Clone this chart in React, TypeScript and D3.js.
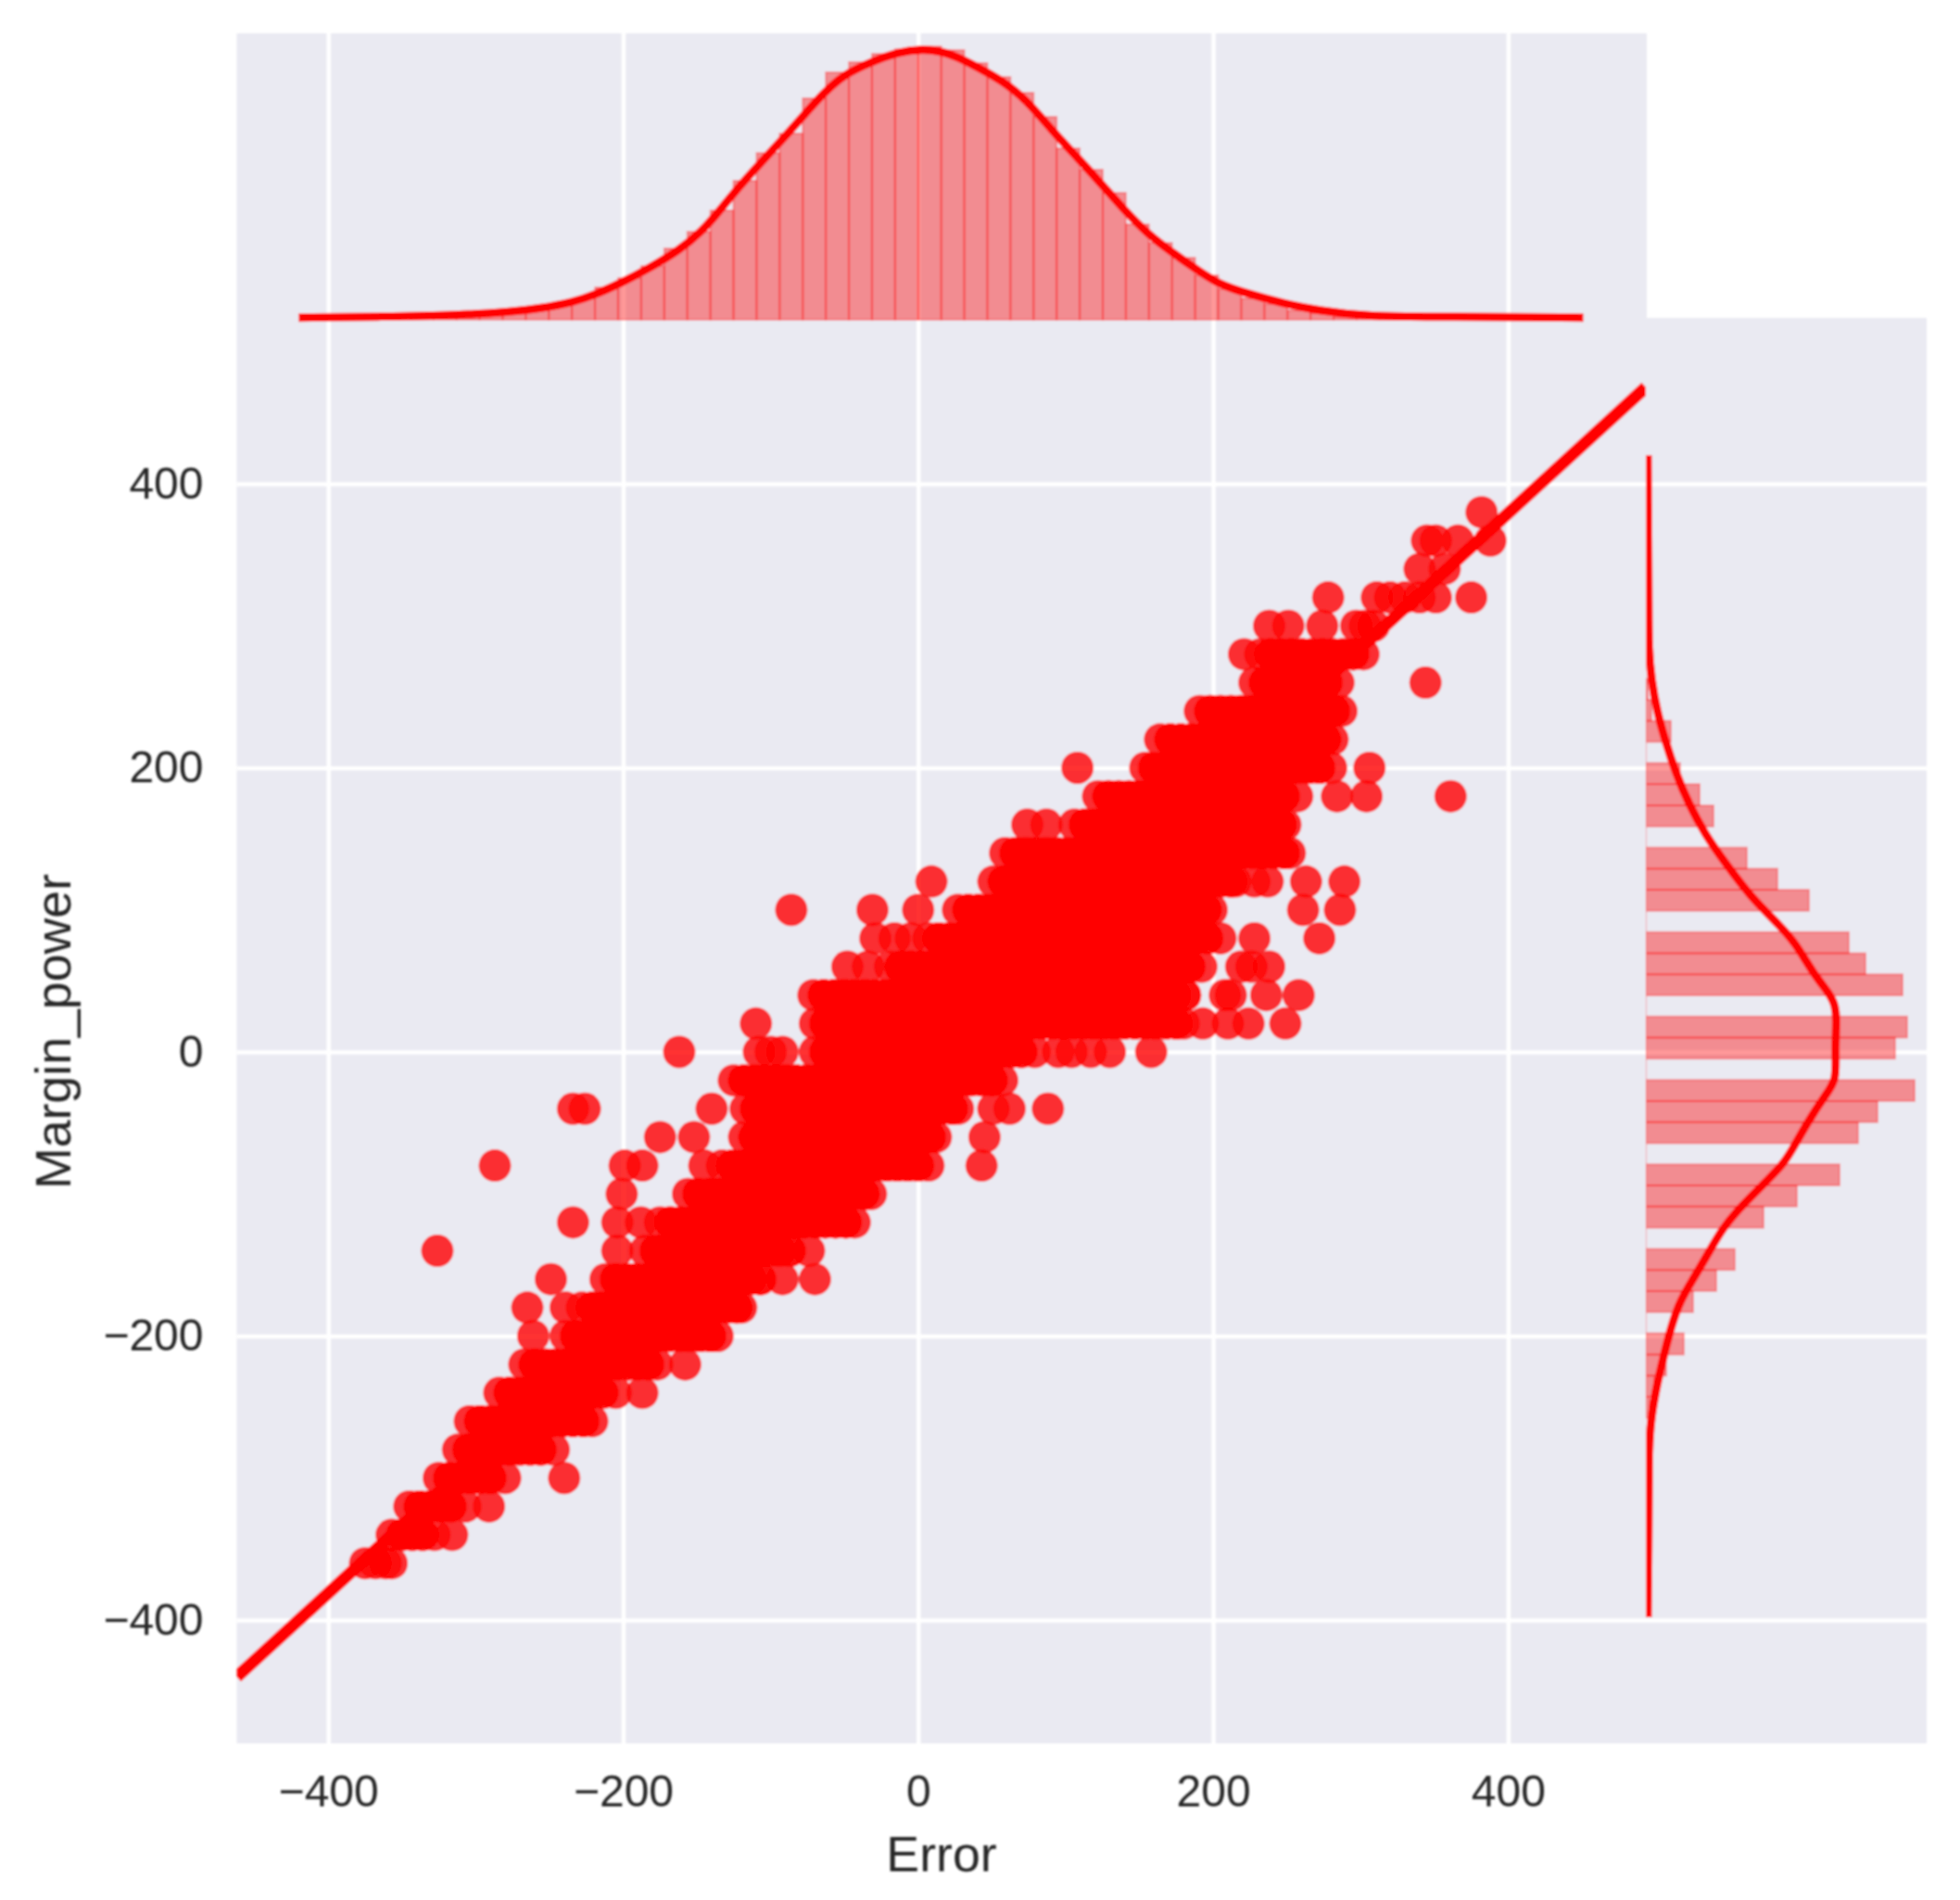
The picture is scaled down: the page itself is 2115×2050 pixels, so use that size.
import React, { useEffect, useRef } from 'react'
import * as d3 from 'd3'

const tickValues = [-400, -200, 0, 200, 400]

// Margin_power comes in steps of 20, so the points sit in rows
const rowMargin = [380, 360, 340, 320, 300, 280, 260, 240, 220, 200, 180, 160, 140, 120, 100, 80, 60, 40, 20, 0, -20, -40, -60, -80, -100, -120, -140, -160, -180, -200, -220, -240, -260, -280, -300, -320, -340, -360]
const rowError = [
  [382],
  [345, 351, 366, 388],
  [340, 357],
  [278, 311, 320, 330, 340, 351, 375],
  [238, 251, 274, 297, 303, 309],
  [221, 232, 239, 246, 253, 260, 267, 274, 281, 288, 295, 302],
  [228, 235, 242, 249, 256, 263, 270, 277, 285, 344],
  [191, 198, 205, 212, 219, 226, 233, 240, 247, 254, 261, 268, 275, 282, 287],
  [164, 171, 178, 185, 192, 199, 206, 213, 220, 227, 234, 241, 248, 255, 262, 269, 276, 281],
  [108, 154, 160, 167, 174, 181, 188, 195, 202, 209, 216, 223, 230, 237, 244, 251, 258, 265, 272, 280, 306],
  [122, 129, 136, 143, 150, 157, 164, 171, 178, 185, 192, 199, 206, 213, 220, 227, 234, 241, 248, 257, 284, 304, 361],
  [74, 87, 106, 113, 120, 127, 134, 141, 148, 155, 162, 169, 176, 183, 190, 197, 204, 211, 218, 225, 232, 239, 246, 249],
  [59, 66, 73, 80, 87, 94, 101, 108, 115, 122, 129, 136, 143, 150, 157, 164, 171, 178, 185, 192, 199, 206, 213, 220, 227, 234, 241, 248, 252],
  [9, 51, 58, 65, 72, 79, 86, 93, 100, 107, 114, 121, 128, 135, 142, 149, 156, 163, 170, 177, 184, 191, 198, 205, 212, 215, 228, 237, 263, 289],
  [-86, -31, 0, 27, 34, 41, 48, 55, 62, 69, 76, 83, 90, 97, 104, 111, 118, 125, 132, 139, 146, 153, 160, 167, 174, 181, 188, 195, 199, 261, 286],
  [-29, -16, -5, 7, 14, 21, 28, 35, 42, 49, 56, 63, 70, 77, 84, 91, 98, 105, 112, 119, 126, 133, 140, 147, 154, 161, 168, 175, 182, 189, 196, 205, 228, 272],
  [-48, -34, -19, -12, -5, 2, 9, 16, 23, 30, 37, 44, 51, 58, 65, 72, 79, 86, 93, 100, 107, 114, 121, 128, 135, 142, 149, 156, 163, 170, 177, 184, 192, 219, 226, 238],
  [-71, -64, -57, -50, -43, -36, -29, -22, -15, -8, -1, 6, 13, 20, 27, 34, 41, 48, 55, 62, 69, 76, 83, 90, 97, 104, 111, 118, 125, 132, 139, 146, 153, 160, 167, 174, 181, 208, 212, 236, 258],
  [-110, -70, -63, -56, -49, -42, -35, -28, -21, -14, -7, 0, 7, 14, 21, 28, 35, 42, 49, 56, 63, 70, 77, 84, 91, 98, 105, 112, 119, 126, 133, 140, 147, 154, 161, 168, 175, 180, 193, 210, 224, 249],
  [-162, -108, -100, -92, -70, -63, -56, -49, -42, -35, -28, -21, -14, -7, 0, 7, 14, 21, 28, 35, 42, 49, 56, 63, 70, 79, 95, 104, 117, 130, 158],
  [-125, -118, -111, -104, -97, -90, -83, -76, -69, -62, -55, -48, -41, -34, -27, -20, -13, -6, 1, 8, 15, 22, 29, 36, 43, 50, 57],
  [-234, -226, -140, -117, -110, -103, -96, -89, -82, -75, -68, -61, -54, -47, -40, -33, -26, -19, -12, -5, 2, 9, 16, 23, 27, 51, 62, 88],
  [-175, -152, -118, -111, -104, -97, -90, -83, -76, -69, -62, -55, -48, -41, -34, -27, -20, -13, -6, 1, 8, 12, 45],
  [-287, -199, -187, -145, -133, -126, -119, -112, -105, -98, -91, -84, -77, -70, -63, -56, -49, -42, -35, -28, -21, -14, -7, 0, 7, 43],
  [-201, -156, -149, -142, -135, -128, -121, -114, -107, -100, -93, -86, -79, -72, -65, -58, -51, -44, -37, -32],
  [-234, -204, -188, -175, -168, -161, -154, -147, -140, -133, -126, -119, -112, -105, -98, -91, -84, -77, -70, -63, -56, -49, -43],
  [-326, -204, -185, -178, -171, -164, -157, -150, -143, -136, -129, -122, -115, -108, -101, -94, -87, -74],
  [-249, -212, -205, -198, -191, -184, -177, -170, -163, -156, -149, -142, -135, -128, -121, -114, -107, -92, -70],
  [-265, -239, -228, -221, -214, -207, -200, -193, -186, -179, -172, -165, -158, -151, -144, -137, -130, -123, -120],
  [-261, -239, -232, -225, -218, -211, -204, -197, -190, -183, -176, -169, -162, -155, -148, -141, -136],
  [-267, -260, -253, -246, -239, -232, -225, -218, -211, -204, -197, -190, -183, -177, -158],
  [-284, -277, -270, -263, -256, -249, -242, -235, -228, -221, -214, -205, -187],
  [-304, -297, -290, -283, -276, -269, -262, -255, -248, -241, -234, -227, -221],
  [-312, -305, -298, -291, -284, -277, -270, -263, -256, -247],
  [-325, -318, -311, -304, -297, -290, -280, -240],
  [-345, -338, -331, -324, -317, -307, -291],
  [-357, -350, -343, -336, -328, -316],
  [-375, -368, -361, -357],
]

// in the middle of each row the observations pile up, those are drawn a second time
const stackFrom = [0, 0, 0, 0, 0, 239, 235, 198, 171, 160, 129, 113, 66, 58, 34, 14, -12, -64, -63, -63, -118, -110, -111, -126, -149, -168, -178, -205, -221, -232, -260, -277, -297, -305, -318, -338, -350, 0]
const stackTo = [-1, -1, -1, -1, -1, 295, 277, 282, 276, 272, 248, 246, 248, 212, 195, 196, 184, 181, 175, 70, 50, 23, 8, 0, -37, -49, -87, -107, -123, -141, -183, -214, -227, -256, -290, -317, -336, -1]

// fitted line, ends of the x range
const fitError = [-462, 493.4]
const fitMargin = [-440, 468]

// top marginal
const errorBinStart = -344.3
const errorBinWidth = 15.65
const errorCounts = [1, 2, 3, 5, 7, 10, 17, 23, 35, 45, 58, 77, 95, 118, 150, 180, 201, 239, 267, 278, 287, 292, 295, 291, 277, 262, 245, 219, 185, 162, 137, 103, 83, 67, 48, 33, 23, 17, 10, 7, 3, 2, 1]
const errorKdeX = [-420, -364, -310, -277, -256, -234, -219, -201, -183, -162, -147, -136, -126, -111, -93, -79, -64, -50, -32, -14, 4, 14, 25, 41, 57, 73, 92, 108, 124, 140, 156, 172, 188, 204, 224, 249, 272, 304, 358, 451]
const errorKdeY = [2.3, 3.3, 5, 8.3, 12.3, 19, 27, 40, 55, 75, 95, 115, 135, 162, 193, 218, 245, 265, 278, 289, 292, 290, 285, 272, 258, 238, 202, 175, 147, 118, 92, 73, 55, 38, 28, 17, 10, 3.3, 3.3, 2.3]

// right marginal
const marginBinStart = -257.6
const marginBinWidth = 14.87
const marginCounts = [4, 9, 22, 41, 0, 51, 76, 96, 0, 127, 163, 209, 0, 229, 250, 290, 0, 269, 282, 0, 277, 237, 219, 0, 176, 142, 109, 0, 73, 58, 37, 0, 27, 6, 2]
const marginKdeY = [420, 312.6, 284, 262, 240, 219, 197, 175, 153, 132, 110, 88, 77, 55, 42, 34, 23, 1, -20, -30, -50, -70, -80, -95, -110, -125, -140, -160, -175, -194, -215, -234, -260, -284, -334, -398]
const marginKdeX = [2, 3, 3, 6, 12, 21, 32, 46, 64, 87, 112, 146, 161, 181, 197, 204, 206, 204, 206, 194, 174, 157, 147, 124, 101, 82, 69, 51, 37, 27, 19, 12, 5, 3, 3, 2]

const App = () => {
  const ref = useRef<SVGSVGElement>(null)

  useEffect(() => {
    const root = d3.select(ref.current)
    root.selectAll('*').remove()

    const left = 255.5
    const right = 1776
    const bottom = 1881
    const top = 343
    const topMarginTop = 36
    const topBase = 345
    const rightEnd = 2079

    const x = d3.scaleLinear().domain([-462, 493.4]).range([left, right])
    const y = d3.scaleLinear().domain([-486.8, 516.8]).range([bottom, top])
    const topY = d3.scaleLinear().domain([0, 309]).range([topBase, topMarginTop])
    const rightX = d3.scaleLinear().domain([0, 303]).range([right, rightEnd])

    const defs = root.append('defs')
    defs.append('clipPath').attr('id', 'mainClip').append('rect')
      .attr('x', left).attr('y', top).attr('width', right - left).attr('height', bottom - top)
    defs.append('clipPath').attr('id', 'rightClip').append('rect')
      .attr('x', right).attr('y', top).attr('width', rightEnd - right).attr('height', bottom - top)
    // the source image is a soft upscale
    defs.append('filter').attr('id', 'soft')
      .attr('filterUnits', 'userSpaceOnUse')
      .attr('x', 0).attr('y', 0).attr('width', 2115).attr('height', 2050)
      .append('feGaussianBlur').attr('stdDeviation', 1)

    const svg = root.append('g').attr('filter', 'url(#soft)')

    // panels
    const bg = '#eaeaf2'
    svg.append('rect').attr('x', left).attr('y', topMarginTop).attr('width', right + 1 - left).attr('height', top - topMarginTop).attr('fill', bg)
    svg.append('rect').attr('x', left).attr('y', top).attr('width', rightEnd - left).attr('height', bottom - top).attr('fill', bg)

    // grid
    const grid = (g, axis) => {
      g.call(axis)
      g.select('.domain').remove()
      g.selectAll('text').remove()
      g.selectAll('line').attr('stroke', '#fff').attr('stroke-width', 4.5)
    }
    const noLabel = () => ''
    svg.append('g').attr('transform', `translate(0,${bottom})`)
      .call(g => grid(g, d3.axisBottom(x).tickValues(tickValues).tickSize(-(bottom - topMarginTop)).tickFormat(noLabel)))
    svg.append('g').attr('transform', `translate(${left},0)`)
      .call(g => grid(g, d3.axisLeft(y).tickValues(tickValues).tickSize(-(rightEnd - left)).tickFormat(noLabel)))

    // top histogram and kde
    const topHist = svg.append('g')
    errorCounts.forEach((c, i) => {
      const x0 = x(errorBinStart + i * errorBinWidth)
      const x1 = x(errorBinStart + (i + 1) * errorBinWidth)
      const p = d3.path()
      p.rect(x0, topY(c), x1 - x0, topY(0) - topY(c))
      topHist.append('path').attr('d', p.toString())
        .attr('fill', 'red').attr('fill-opacity', 0.4)
        .attr('stroke', 'red').attr('stroke-opacity', 0.3).attr('stroke-width', 2)
    })
    const topLine = d3.line<number>()
      .x(d => x(d))
      .y((_, i) => topY(errorKdeY[i]))
      .curve(d3.curveBasis)
    svg.append('path').attr('d', topLine(errorKdeX))
      .attr('fill', 'none').attr('stroke', 'red').attr('stroke-width', 9)

    // right histogram and kde
    const rightPanel = svg.append('g').attr('clip-path', 'url(#rightClip)')
    marginCounts.forEach((c, i) => {
      const y0 = y(marginBinStart + i * marginBinWidth)
      const y1 = y(marginBinStart + (i + 1) * marginBinWidth)
      const p = d3.path()
      p.moveTo(rightX(0), y0)
      p.lineTo(rightX(c), y0)
      p.lineTo(rightX(c), y1)
      p.lineTo(rightX(0), y1)
      p.closePath()
      rightPanel.append('path').attr('d', p.toString())
        .attr('fill', 'red').attr('fill-opacity', 0.4)
        .attr('stroke', 'red').attr('stroke-opacity', 0.3).attr('stroke-width', 2)
    })
    const rightLine = d3.line<number>()
      .x((_, i) => rightX(marginKdeX[i]))
      .y(d => y(d))
      .curve(d3.curveBasis)
    rightPanel.append('path').attr('d', rightLine(marginKdeY))
      .attr('fill', 'none').attr('stroke', 'red').attr('stroke-width', 9)

    // scatter and fit
    const main = svg.append('g').attr('clip-path', 'url(#mainClip)')
    rowMargin.forEach((m, i) => {
      const stacked = rowError[i].filter(d => d >= stackFrom[i] && d <= stackTo[i])
      main.append('g').selectAll('circle')
        .data(rowError[i].concat(stacked))
        .enter()
        .append('circle')
        .attr('cx', d => x(d))
        .attr('cy', y(m))
        .attr('r', 17.5)
        .attr('fill', 'red')
        .attr('fill-opacity', 0.8)
    })
    main.append('line')
      .attr('x1', x(fitError[0])).attr('y1', y(fitMargin[0]))
      .attr('x2', x(fitError[1])).attr('y2', y(fitMargin[1]))
      .attr('stroke', 'red').attr('stroke-width', 13.5)

    // axes
    const fontFamily = '"Liberation Sans", Arial, sans-serif'
    const labelAxis = g => {
      g.select('.domain').remove()
      g.selectAll('line').remove()
      g.selectAll('text').attr('font-size', 48).attr('font-family', fontFamily).attr('fill', '#262626')
    }
    svg.append('g').attr('transform', `translate(0,${bottom})`)
      .call(d3.axisBottom(x).tickValues(tickValues).tickSize(0).tickPadding(34))
      .call(labelAxis)
    svg.append('g').attr('transform', `translate(${left},0)`)
      .call(d3.axisLeft(y).tickValues(tickValues).tickSize(0).tickPadding(36))
      .call(labelAxis)

    svg.append('text').text('Error')
      .attr('x', 1016).attr('y', 2019)
      .attr('text-anchor', 'middle')
      .attr('font-size', 53.7).attr('font-family', fontFamily).attr('fill', '#262626')
    svg.append('text').text('Margin_power')
      .attr('transform', 'translate(76,1113) rotate(-90)')
      .attr('text-anchor', 'middle')
      .attr('font-size', 53.7).attr('font-family', fontFamily).attr('fill', '#262626')
  }, [])

  return (
    <svg
      ref={ref}
      width={2115}
      height={2050}
      style={{ position: 'absolute', left: 0, top: 0, display: 'block' }}
    />
  )
}

export default App
